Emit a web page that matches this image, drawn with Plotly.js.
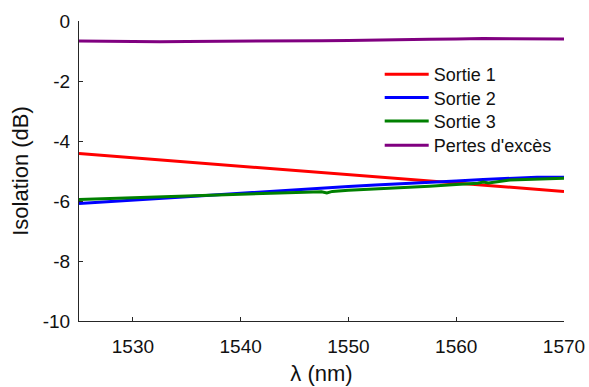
<!DOCTYPE html>
<html>
<head>
<meta charset="utf-8">
<script src="https://cdn.plot.ly/plotly-3.0.1.min.js"></script>
<style>html,body{margin:0;padding:0;background:#fff;}#chart{width:589px;height:387px;}</style>
</head>
<body>
<div id="chart"></div>
<script>
var wavelength = [1525, 1527.5, 1530, 1532.5, 1535, 1537.5, 1540, 1542.5, 1545, 1547.5, 1550, 1552.5, 1555, 1557.5, 1560, 1562.5, 1565, 1567.5, 1570];
var sortie1 = [-4.42, -4.49, -4.57, -4.63, -4.70, -4.77, -4.84, -4.91, -4.98, -5.05, -5.11, -5.19, -5.26, -5.33, -5.39, -5.46, -5.53, -5.61, -5.68];
var sortie2 = [-6.08, -6.03, -5.97, -5.92, -5.86, -5.80, -5.74, -5.68, -5.62, -5.56, -5.52, -5.47, -5.43, -5.38, -5.33, -5.28, -5.24, -5.21, -5.21];
var wavelength3 = [1525, 1527.5, 1530, 1532.5, 1535, 1537.5, 1540, 1542.5, 1545, 1547.5, 1548, 1548.5, 1550, 1552.5, 1555, 1557.5, 1560, 1562, 1562.5, 1563, 1565, 1567.5, 1570];
var sortie3 = [-5.95, -5.92, -5.89, -5.86, -5.83, -5.80, -5.78, -5.75, -5.72, -5.69, -5.73, -5.68, -5.64, -5.60, -5.56, -5.51, -5.45, -5.41, -5.37, -5.40, -5.30, -5.26, -5.24];
var pertes = [-0.67, -0.68, -0.68, -0.69, -0.68, -0.68, -0.68, -0.67, -0.67, -0.66, -0.65, -0.63, -0.62, -0.61, -0.60, -0.58, -0.59, -0.60, -0.60];
var xTicks = [1530, 1540, 1550, 1560, 1570];
var yTicks = [0, -2, -4, -6, -8, -10];
var seriesNames = ['Sortie 1', 'Sortie 2', 'Sortie 3', "Pertes d'excès"];
var seriesColors = ['#ff0000', '#0000ff', '#008000', '#800080'];

var FAMILY = 'Liberation Sans, Arial, sans-serif';
function mkFont(size) { return {family: FAMILY, size: size, color: '#111'}; }
var axisColor = '#262626';

var traces = [
  {x: wavelength, y: sortie1},
  {x: wavelength, y: sortie2},
  {x: wavelength3, y: sortie3},
  {x: wavelength, y: pertes}
].map(function (t, i) {
  t.type = 'scatter'; t.mode = 'lines';
  t.name = seriesNames[i];
  t.line = {color: seriesColors[i], width: 3};
  t.legend = i === 0 ? 'legend' : 'legend' + (i + 1);
  return t;
});

var legendTops = [0.8833, 0.8057, 0.7277, 0.6467];
var layout = {
  width: 589, height: 387,
  margin: {l: 79, r: 25, t: 21, b: 66, pad: 0},
  paper_bgcolor: '#fff', plot_bgcolor: '#fff',
  font: mkFont(19),
  showlegend: true,
  xaxis: {
    range: [1525, 1570], tickvals: xTicks, ticktext: xTicks.map(String),
    tickfont: mkFont(19),
    ticks: 'inside', ticklen: 4, tickcolor: axisColor, tickwidth: 1,
    showline: true, linecolor: axisColor, linewidth: 1, mirror: false,
    showgrid: false, zeroline: false, ticklabelstandoff: 8,
    title: {text: 'λ (nm)', font: mkFont(22), standoff: 9},
    automargin: false
  },
  yaxis: {
    range: [-10, 0], tickvals: yTicks, ticktext: yTicks.map(String),
    tickfont: mkFont(19),
    ticks: 'inside', ticklen: 4, tickcolor: axisColor, tickwidth: 1,
    showline: true, linecolor: axisColor, linewidth: 1, mirror: false,
    showgrid: false, zeroline: false, ticklabelstandoff: 4,
    title: {text: 'Isolation (dB)', font: mkFont(22), standoff: 8},
    automargin: false
  }
};
legendTops.forEach(function (yTop, i) {
  var key = i === 0 ? 'legend' : 'legend' + (i + 1);
  layout[key] = {x: 0.62, y: yTop, xanchor: 'left', yanchor: 'top',
                 bgcolor: 'rgba(0,0,0,0)', font: mkFont(18), itemwidth: 44};
});

Plotly.newPlot('chart', traces, layout, {displayModeBar: false, staticPlot: true});
</script>
</body>
</html>
